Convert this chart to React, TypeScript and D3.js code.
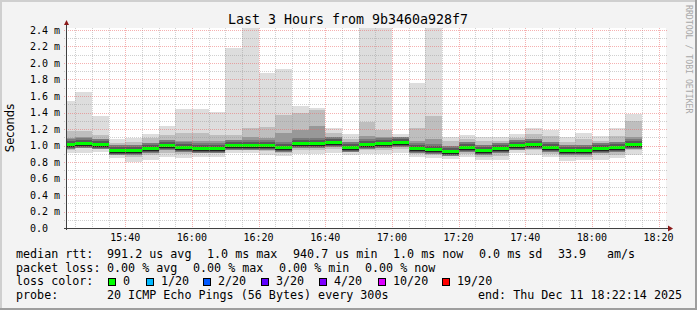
import React from "react";
import * as d3 from "d3";

// bar start times (5-minute steps)
const barTimes = [
  "15:20","15:25","15:30","15:35","15:40","15:45","15:50","15:55",
  "16:00","16:05","16:10","16:15","16:20","16:25","16:30","16:35",
  "16:40","16:45","16:50","16:55","17:00","17:05","17:10","17:15",
  "17:20","17:25","17:30","17:35","17:40","17:45","17:50","17:55",
  "18:00","18:05","18:10",
];
// ping statistics in ms
const maxV = [1.54,1.65,1.36,1.08,1.095,1.14,1.236,1.446,1.44,1.406,2.18,2.6,1.88,1.93,1.48,1.45,1.216,1.14,2.6,2.6,1.14,1.76,2.6,1.107,1.127,1.107,1.107,1.14,1.208,1.188,1.099,1.155,1.115,1.21,1.38];
const p90V = [1.17,1.18,1.13,1.03,1.04,1.09,1.13,1.15,1.15,1.13,1.13,1.21,1.23,1.37,1.39,1.43,1.15,1.08,1.29,1.19,1.10,1.21,1.36,1.06,1.08,1.05,1.06,1.09,1.14,1.12,1.04,1.08,1.06,1.12,1.30];
const p75V = [1.09,1.10,1.08,0.99,0.99,1.03,1.06,1.06,1.06,1.06,1.07,1.10,1.09,1.15,1.19,1.236,1.10,1.03,1.12,1.10,1.07,1.06,1.08,0.99,1.03,0.99,1.01,1.05,1.07,1.04,0.98,1.00,1.01,1.04,1.10];
const medV = [1.015,1.034,1.022,0.94,0.94,0.973,1.006,0.985,0.975,0.975,1.01,1.01,1.01,0.985,1.026,1.034,1.039,0.985,1.015,1.026,1.039,0.97,0.958,0.937,0.985,0.945,0.97,1.01,1.022,0.985,0.94,0.94,0.975,0.978,1.022];
const p25V = [0.98,1.00,0.99,0.91,0.90,0.93,0.96,0.95,0.94,0.94,0.97,0.97,0.96,0.95,0.98,0.99,1.00,0.95,0.97,0.98,1.00,0.94,0.92,0.90,0.94,0.90,0.92,0.97,0.98,0.94,0.90,0.90,0.93,0.94,0.98];
const p10V = [0.95,0.97,0.96,0.88,0.86,0.88,0.91,0.90,0.91,0.91,0.94,0.94,0.93,0.91,0.94,0.95,0.96,0.92,0.94,0.95,0.96,0.90,0.88,0.87,0.90,0.86,0.87,0.94,0.94,0.90,0.86,0.86,0.88,0.89,0.94];
const minV = [0.91,0.91,0.925,0.845,0.80,0.824,0.857,0.85,0.865,0.865,0.905,0.905,0.89,0.87,0.90,0.90,0.905,0.89,0.90,0.90,0.905,0.865,0.845,0.836,0.857,0.824,0.824,0.905,0.89,0.857,0.812,0.82,0.82,0.845,0.89];

const yTicks = [0, 0.2, 0.4, 0.6, 0.8, 1.0, 1.2, 1.4, 1.6, 1.8, 2.0, 2.2, 2.4];
const yMinor = [0.1, 0.3, 0.5, 0.7, 0.9, 1.1, 1.3, 1.5, 1.7, 1.9, 2.1, 2.3];
const xLabels = ["15:40", "16:00", "16:20", "16:40", "17:00", "17:20", "17:40", "18:00", "18:20"];

const lossColors = [
  { label: "0", color: "#00ff00", x: 108 },
  { label: "1/20", color: "#00b8ff", x: 146 },
  { label: "2/20", color: "#0059ff", x: 203 },
  { label: "3/20", color: "#5e00ff", x: 261 },
  { label: "4/20", color: "#7e00ff", x: 319 },
  { label: "10/20", color: "#dd00ff", x: 378 },
  { label: "19/20", color: "#ff0000", x: 442 },
];

const FONT = "'DejaVu Sans Mono', monospace";

function t(hm: string, s = 0) {
  const [h, m] = hm.split(":").map(Number);
  return new Date(2025, 11, 11, h, m, s);
}

export default function App() {
  const W = 697, H = 310;
  const x0 = 66, x1 = 666, yTop = 28, yBot = 228;
  const x = d3.scaleTime().domain([t("15:22", 14), t("18:22", 14)]).range([x0, x1]);
  const y = d3.scaleLinear().domain([0, 200 / 82.5]).range([yBot, yTop]);
  const cy = (v: number) => Math.max(yTop, y(v));
  const step = 5 * 60 * 1000;

  const bars = barTimes.map((s, i) => {
    const st = t(s);
    const a = Math.max(x0, Math.round(x(st)));
    const b = Math.round(x(new Date(st.getTime() + step)));
    return { a, b, i };
  });

  const layers: [number[], number[], string][] = [
    [minV, maxV, "#dddddd"],
    [p10V, p90V, "#bebebe"],
    [p25V, p75V, "#989898"],
  ];

  const minorX: Date[] = d3.timeMinute.every(5)!.range(t("15:25"), t("18:22", 30));
  const majorX: Date[] = d3.timeMinute.every(20)!.range(t("15:40"), t("18:22", 30));
  const fmt = d3.timeFormat("%H:%M");
  const hy = (v: number) => Math.round(y(v)) + 0.5;
  const vx = (d: Date) => Math.round(x(d)) + 0.5;

  return (
    <svg width={W} height={H} style={{ display: "block", position: "absolute", left: 0, top: 0 }} fontFamily={FONT}>
      <rect x={0} y={0} width={W} height={H} fill="#f3f3f3" />
      <rect x={0} y={0} width={W} height={2} fill="#cfcfcf" />
      <rect x={0} y={0} width={2} height={H} fill="#cfcfcf" />
      <rect x={0} y={H - 2} width={W} height={2} fill="#9e9e9e" />
      <rect x={W - 2} y={0} width={2} height={H} fill="#9e9e9e" />
      <rect x={x0} y={yTop} width={x1 - x0} height={yBot - yTop} fill="#ffffff" />

      <g shapeRendering="crispEdges">
        {layers.map(([lo, hi, c], li) =>
          bars.map(({ a, b, i }) => (
            <rect key={`l${li}-${i}`} x={a} width={b - a}
              y={Math.round(cy(hi[i]))} height={Math.round(y(lo[i])) - Math.round(cy(hi[i]))} fill={c} />
          ))
        )}
        {bars.map(({ a, b, i }) => (
          <rect key={`core1${i}`} x={a} width={b - a} y={Math.round(y(medV[i])) - 5} height={10} fill="#7a7a7a" />
        ))}
        {bars.map(({ a, b, i }) => (
          <rect key={`core${i}`} x={a} width={b - a} y={Math.round(y(medV[i])) - 3} height={7} fill="#595959" />
        ))}
        {bars.map(({ a, b, i }) => (
          <rect key={`dk${i}`} x={a} width={b - a} y={Math.round(y(medV[i])) + 2} height={1} fill="#202020" />
        ))}
        {bars.map(({ a, b, i }) => (
          <rect key={`md${i}`} x={a} width={b - a} y={Math.round(y(medV[i])) - 1} height={3} fill="#00ff00" />
        ))}
      </g>

      <g shapeRendering="crispEdges" strokeDasharray="1,1" strokeWidth={1}>
        {yMinor.map((v) => (
          <line key={`ym${v}`} x1={x0 - 2} x2={x1 + 2} y1={hy(v)} y2={hy(v)} stroke="rgba(150,150,150,0.45)" />
        ))}
        {minorX.filter((d) => d.getMinutes() % 20 !== 0).map((d) => (
          <line key={`xm${+d}`} x1={vx(d)} x2={vx(d)} y1={yTop} y2={yBot + 2} stroke="rgba(150,150,150,0.45)" />
        ))}
        {yTicks.filter((v) => v > 0).map((v) => (
          <line key={`yM${v}`} x1={x0 - 2} x2={x1 + 2} y1={hy(v)} y2={hy(v)} stroke="rgba(235,100,100,0.5)" />
        ))}
        {majorX.map((d) => (
          <line key={`xM${+d}`} x1={vx(d)} x2={vx(d)} y1={yTop} y2={yBot + 2} stroke="rgba(235,100,100,0.5)" />
        ))}
      </g>

      <g shapeRendering="crispEdges">
        <line x1={x0 + 0.5} x2={x0 + 0.5} y1={yBot + 2} y2={yTop - 4} stroke="#404040" />
        <line x1={x0 - 2} x2={x1 + 4} y1={yBot + 0.5} y2={yBot + 0.5} stroke="#404040" />
      </g>
      <path d={`M${x0 - 2},${yTop - 3} L${x0 + 0.5},${yTop - 8} L${x0 + 3},${yTop - 3} Z`} fill="#8b1a1a" />
      <path d={`M${x1 + 2},${yBot - 2.5} L${x1 + 7},${yBot + 0.5} L${x1 + 2},${yBot + 3.5} Z`} fill="#8b1a1a" />

      <text x={348} y={23.5} textAnchor="middle" fontSize={13.3} fill="#000">Last 3 Hours from 9b3460a928f7</text>
      <text transform="translate(14,128) rotate(-90)" textAnchor="middle" fontSize={11.5} fontFamily="'DejaVu Sans', sans-serif" fill="#000">Seconds</text>
      <text transform="translate(686,5) rotate(90)" fontSize={8.2} fill="#a8a8a8">RRDTOOL / TOBI OETIKER</text>

      {yTicks.map((v) => (
        <text key={`yl${v}`} x={30} y={y(v) + 3.5} fontSize={10} fill="#000">
          {v === 0 ? "0.0" : `${v.toFixed(1)} m`}
        </text>
      ))}
      {xLabels.map((s) => (
        <text key={`xl${s}`} x={x(t(s))} y={241} textAnchor="middle" fontSize={10} fill="#000">{fmt(t(s))}</text>
      ))}

      <g fontSize={11.7} fill="#000">
        <text x={16} y={258}>median rtt:</text>
        <text x={107} y={258}>991.2 us avg</text>
        <text x={207} y={258}>1.0 ms max</text>
        <text x={293} y={258}>940.7 us min</text>
        <text x={393} y={258}>1.0 ms now</text>
        <text x={479} y={258}>0.0 ms sd</text>
        <text x={558} y={258}>33.9</text>
        <text x={607} y={258}>am/s</text>

        <text x={16} y={271.5}>packet loss:</text>
        <text x={107} y={271.5}>0.00 % avg</text>
        <text x={193} y={271.5}>0.00 % max</text>
        <text x={279} y={271.5}>0.00 % min</text>
        <text x={365} y={271.5}>0.00 % now</text>

        <text x={16} y={285}>loss color:</text>
        {lossColors.map((l) => (
          <g key={l.label}>
            <rect x={l.x + 0.5} y={278.5} width={7} height={7} fill={l.color} stroke="#000" strokeWidth={1} shapeRendering="crispEdges" />
            <text x={l.x + 15} y={285}>{l.label}</text>
          </g>
        ))}

        <text x={16} y={298.5}>probe:</text>
        <text x={107} y={298.5}>20 ICMP Echo Pings (56 Bytes) every 300s</text>
        <text x={478} y={298.5}>end: Thu Dec 11 18:22:14 2025</text>
      </g>
    </svg>
  );
}
